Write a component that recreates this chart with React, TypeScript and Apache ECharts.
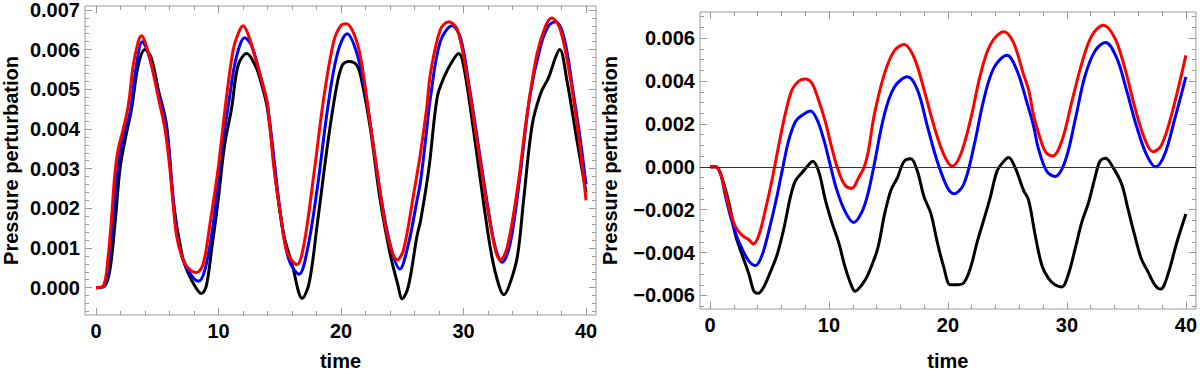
import React, { useEffect, useRef } from "react";
import * as echarts from "echarts";

type P = [number, number];

// ---- Left panel data (time, pressure perturbation) ----
const leftBlack: P[] = [
  [0, 0], [0.73, 0.00005], [1.14, 0.00045], [1.55, 0.0016], [1.96, 0.003], [2.36, 0.0037], [2.9, 0.0045],
  [3.45, 0.0056], [4.0, 0.006], [4.5, 0.0058], [5.08, 0.005], [5.76, 0.0041], [6.3, 0.0022], [7.0, 0.00086],
  [7.5, 0.00038], [8.07, 0.00004], [8.6, -0.00015], [9.0, 0.00004], [9.43, 0.00094], [9.97, 0.0022],
  [10.5, 0.0036], [11.06, 0.0045], [11.6, 0.0056], [12.3, 0.0059], [13.0, 0.0056], [13.45, 0.0052],
  [14.0, 0.0045], [14.8, 0.0024], [15.35, 0.0013], [16.0, 0.0006], [16.84, -0.00027], [17.4, 0.00012],
  [18.06, 0.0016], [18.9, 0.0036], [19.6, 0.005], [20.1, 0.0056], [20.65, 0.0057], [21.3, 0.0056],
  [21.7, 0.0052], [22.4, 0.004], [23.2, 0.0022], [24.0, 0.00086], [24.6, 0.00012], [25.0, -0.00028],
  [25.5, 0.00004], [26.2, 0.0013], [26.5, 0.0017], [27.17, 0.003], [27.85, 0.0048], [28.4, 0.0053],
  [29.07, 0.0057], [29.6, 0.0059], [30.0, 0.0056], [30.8, 0.004], [31.65, 0.0021], [32.3, 0.0008],
  [32.9, 0.00004], [33.3, -0.00018], [33.8, 0.00012], [34.4, 0.0008], [34.9, 0.0022], [35.6, 0.0041],
  [36.3, 0.0049], [36.95, 0.0053], [37.5, 0.0058], [37.85, 0.006], [38.45, 0.0052], [39.26, 0.0037],
  [40.0, 0.0024],
];
const leftBlue: P[] = [
  [0, 0], [0.6, 0.00002], [1.0, 0.0005], [1.41, 0.0018], [1.82, 0.0031], [2.23, 0.0038], [2.77, 0.0044],
  [3.3, 0.0056], [3.78, 0.0062], [4.27, 0.0059], [5.08, 0.0049], [5.76, 0.004], [6.2, 0.0026],
  [6.58, 0.0014], [7.1, 0.0007], [7.8, 0.0003], [8.35, 0.00016], [8.9, 0.00046], [9.57, 0.0016],
  [10.2, 0.0033], [10.9, 0.0048], [11.45, 0.0058], [12.15, 0.0063], [12.7, 0.0061], [13.45, 0.0053],
  [14.0, 0.0046], [15.08, 0.0018], [15.75, 0.0007], [16.57, 0.00034], [17.25, 0.00095], [18.06, 0.0025],
  [18.9, 0.0045], [19.7, 0.0059], [20.5, 0.0064], [21.3, 0.0059], [22.0, 0.0049], [22.4, 0.0041],
  [23.2, 0.0024], [24.0, 0.0011], [24.8, 0.00047], [25.5, 0.0011], [26.2, 0.0022], [26.5, 0.0027],
  [27.0, 0.004], [27.3, 0.0048], [28.1, 0.0062], [29.07, 0.0066], [29.75, 0.0063], [30.5, 0.005],
  [31.3, 0.0034], [32.0, 0.002], [32.6, 0.001], [33.15, 0.00064], [33.8, 0.0011], [34.6, 0.0028],
  [35.4, 0.0048], [36.3, 0.0061], [36.95, 0.0066], [37.5, 0.0067], [38.2, 0.0063], [38.96, 0.0049],
  [39.5, 0.0038], [40.0, 0.0026],
];
const leftRed: P[] = [
  [0, 0], [0.6, 0.00004], [1.0, 0.0008], [1.28, 0.0018], [1.55, 0.0029], [1.82, 0.0035], [2.23, 0.004],
  [2.64, 0.0046], [3.04, 0.0056], [3.45, 0.0062], [3.72, 0.00635], [4.0, 0.0062], [4.54, 0.0056],
  [5.08, 0.0048], [5.63, 0.004], [6.03, 0.003], [6.3, 0.0021], [6.58, 0.0013], [7.0, 0.0008], [7.5, 0.0005],
  [8.2, 0.00038], [8.75, 0.0006], [9.3, 0.0016], [9.97, 0.003], [10.65, 0.0048], [11.2, 0.006],
  [11.6, 0.0064], [12.0, 0.0066], [12.4, 0.0064], [13.0, 0.0058], [13.45, 0.0053], [14.0, 0.0046],
  [14.53, 0.003], [15.08, 0.0018], [15.6, 0.0009], [16.4, 0.00058], [16.98, 0.0011], [17.8, 0.0029],
  [18.6, 0.0048], [19.4, 0.0062], [19.97, 0.0066], [20.45, 0.00665], [21.05, 0.0064], [21.6, 0.0058],
  [22.4, 0.0041], [23.2, 0.0024], [23.8, 0.0013], [24.6, 0.0007], [25.1, 0.00095], [25.95, 0.0024],
  [26.49, 0.0034], [26.98, 0.0045], [27.3, 0.0054], [28.1, 0.0065], [28.8, 0.0067], [29.5, 0.0065],
  [30.3, 0.0053], [31.1, 0.0037], [31.9, 0.0021], [32.6, 0.00095], [33.0, 0.0007], [33.55, 0.001],
  [34.4, 0.0025], [35.2, 0.0044], [36.0, 0.0059], [36.7, 0.0066], [37.2, 0.0068], [37.9, 0.0065],
  [38.7, 0.0053], [39.4, 0.0038], [40.0, 0.0022],
];

// ---- Right panel data ----
const rightBlack: P[] = [
  [0, 0], [0.47, 0], [0.9, -0.00035], [1.6, -0.0017], [2.15, -0.0032], [2.7, -0.0041], [3.27, -0.005],
  [3.69, -0.0058], [4.05, -0.0059], [4.52, -0.0056], [5.08, -0.0049], [5.64, -0.0041], [6.2, -0.0029],
  [6.76, -0.0014], [7.18, -0.00065], [7.74, -0.00027], [8.3, 0.0001], [8.63, 0.00026], [9.13, -0.0002],
  [9.7, -0.00155], [10.25, -0.0026], [10.8, -0.0035], [11.37, -0.0047], [11.93, -0.0056], [12.2, -0.0058],
  [12.77, -0.0055], [13.3, -0.005], [14.1, -0.0038], [14.64, -0.0023], [15.2, -0.0011], [15.76, -0.0005],
  [16.32, 0.00026], [16.88, 0.00038], [17.43, -0.0002], [17.99, -0.0014], [18.55, -0.00215],
  [19.1, -0.0035], [19.66, -0.0047], [20.2, -0.0055], [20.78, -0.0055], [21.34, -0.0054], [21.9, -0.0047],
  [22.46, -0.0035], [23.0, -0.0025], [23.57, -0.0014], [24.13, -0.0002], [24.7, 0.00026], [25.1, 0.00044],
  [25.66, -0.00005], [26.36, -0.0011], [26.78, -0.00155], [27.34, -0.0032], [27.9, -0.0046],
  [28.45, -0.0052], [29.0, -0.0055], [29.57, -0.0056], [30.13, -0.005], [30.7, -0.0038], [31.24, -0.0026],
  [31.8, -0.0017], [32.36, -0.0005], [32.78, 0.00026], [33.25, 0.0004], [33.9, -0.00005], [34.6, -0.0008],
  [35.15, -0.002], [35.7, -0.0032], [36.26, -0.0043], [36.82, -0.0049], [37.38, -0.0055], [37.88, -0.0057],
  [38.5, -0.005], [39.2, -0.0036], [40.0, -0.0022],
];
const rightBlue: P[] = [
  [0, 0], [0.47, 0], [0.9, -0.00035], [1.31, -0.0014], [1.87, -0.0026], [2.43, -0.0035], [3.27, -0.0044],
  [3.83, -0.0046], [4.39, -0.0041], [4.94, -0.003], [5.5, -0.0017], [6.06, -0.0002], [6.6, 0.0012],
  [7.18, 0.0021], [7.74, 0.0024], [8.44, 0.0026], [9.0, 0.0022], [9.55, 0.0013], [10.1, 0.0001],
  [10.67, -0.0011], [11.37, -0.0021], [12.07, -0.0026], [12.77, -0.0021], [13.3, -0.0012], [13.8, 0.0001],
  [14.64, 0.0024], [15.48, 0.0037], [16.6, 0.0042], [17.43, 0.0036], [18.27, 0.0019], [19.1, 0.00026],
  [19.94, -0.00095], [20.5, -0.00125], [21.34, -0.0008], [22.2, 0.001], [23.0, 0.0031], [23.85, 0.0046],
  [24.96, 0.0052], [25.8, 0.0045], [26.64, 0.003], [27.2, 0.0019], [27.6, 0.00086], [28.3, -0.0002],
  [29.0, -0.00045], [29.85, 0.00026], [30.7, 0.0022], [31.5, 0.0042], [32.36, 0.0054], [33.25, 0.0058],
  [34.17, 0.0051], [35.0, 0.0036], [35.85, 0.0019], [36.7, 0.00056], [37.45, 0], [38.2, 0.00056],
  [39.05, 0.0022], [40.0, 0.0042],
];
const rightRed: P[] = [
  [0, 0], [0.47, 0], [0.9, -0.00035], [1.31, -0.00125], [1.73, -0.00215], [2.15, -0.0028], [2.7, -0.0032],
  [3.27, -0.0034], [3.63, -0.0036], [4.1, -0.0032], [4.66, -0.002], [5.2, -0.00065], [5.78, 0.001],
  [6.34, 0.0025], [6.9, 0.0036], [7.46, 0.004], [8.0, 0.0041], [8.57, 0.0039], [9.13, 0.0031],
  [9.7, 0.0021], [10.25, 0.00086], [10.8, -0.0002], [11.37, -0.00087], [11.93, -0.001], [12.5, -0.0005],
  [12.97, 0.0], [13.3, 0.0007], [13.8, 0.0024], [14.64, 0.0043], [15.48, 0.0054], [16.32, 0.0057],
  [17.15, 0.0051], [17.99, 0.0036], [18.83, 0.0019], [19.66, 0.00056], [20.36, 0.00003], [21.06, 0.00056],
  [21.9, 0.0022], [22.73, 0.0043], [23.57, 0.0057], [24.7, 0.0063], [25.5, 0.0058], [26.36, 0.0043],
  [26.78, 0.0036], [27.2, 0.0024], [27.6, 0.0016], [28.2, 0.0007], [28.8, 0.0005], [29.57, 0.0012],
  [30.4, 0.003], [31.24, 0.0048], [32.08, 0.0061], [33.06, 0.0066], [34.03, 0.006], [34.87, 0.0046],
  [35.7, 0.0028], [36.54, 0.0013], [37.24, 0.0007], [37.94, 0.001], [38.78, 0.0024], [40.0, 0.0052],
];

// ---- Ticks ----
const xMajorTicks = [0, 10, 20, 30, 40];
const xMinorTicks = [0, 2, 4, 6, 8, 10, 12, 14, 16, 18, 20, 22, 24, 26, 28, 30, 32, 34, 36, 38, 40];
const leftYMajorTicks = [0, 0.001, 0.002, 0.003, 0.004, 0.005, 0.006, 0.007];
const leftYMinorTicks: number[] = [];
for (let i = -3; i <= 35; i++) leftYMinorTicks.push(Math.round(i * 2) / 10000);
const rightYMajorTicks = [-0.006, -0.004, -0.002, 0, 0.002, 0.004, 0.006];
const rightYMinorTicks: number[] = [];
for (let i = -13; i <= 14; i++) rightYMinorTicks.push(Math.round(i * 5) / 10000);

const xLabel = "time";
const yLabel = "Pressure perturbation";

const FONT = "'Liberation Sans', Arial, sans-serif";
const FRAME = "#999999";

const fmtY = (v: number) => {
  const a = Math.abs(v).toFixed(3);
  return v < -1e-9 ? "\u2212" + a : a;
};

const noLine = { show: false, onZero: false };

function makeXAxes(gridIndex: number, min: number, max: number, nameGap: number) {
  const base = { type: "value" as const, gridIndex, min, max, splitLine: { show: false }, axisLine: noLine };
  return [
    {
      ...base,
      position: "bottom",
      name: xLabel,
      nameLocation: "middle",
      nameGap,
      nameTextStyle: { fontSize: 20, fontWeight: "bold", color: "#000", fontFamily: FONT },
      axisTick: { show: true, inside: true, length: 7, customValues: xMajorTicks, lineStyle: { color: FRAME } },
      axisLabel: {
        show: true, customValues: xMajorTicks, margin: 6, fontSize: 20, fontWeight: "bold", color: "#000",
        fontFamily: FONT, formatter: (v: number) => String(Math.round(v)),
      },
    },
    {
      ...base, position: "bottom",
      axisTick: { show: true, inside: true, length: 4, customValues: xMinorTicks, lineStyle: { color: FRAME } },
      axisLabel: { show: false },
    },
    {
      ...base, position: "top",
      axisTick: { show: true, inside: true, length: 7, customValues: xMajorTicks, lineStyle: { color: FRAME } },
      axisLabel: { show: false },
    },
    {
      ...base, position: "top",
      axisTick: { show: true, inside: true, length: 4, customValues: xMinorTicks, lineStyle: { color: FRAME } },
      axisLabel: { show: false },
    },
  ];
}

function makeYAxes(gridIndex: number, min: number, max: number, majors: number[], minors: number[], nameGap: number) {
  const base = { type: "value" as const, gridIndex, min, max, splitLine: { show: false }, axisLine: noLine };
  return [
    {
      ...base,
      position: "left",
      name: yLabel,
      nameLocation: "middle",
      nameGap,
      nameRotate: 90,
      nameTextStyle: { fontSize: 20, fontWeight: "bold", color: "#000", fontFamily: FONT },
      axisTick: { show: true, inside: true, length: 7, customValues: majors, lineStyle: { color: FRAME } },
      axisLabel: {
        show: true, customValues: majors, margin: 5, fontSize: 20, fontWeight: "bold", color: "#000",
        fontFamily: FONT, formatter: fmtY,
      },
    },
    {
      ...base, position: "left",
      axisTick: { show: true, inside: true, length: 4, customValues: minors, lineStyle: { color: FRAME } },
      axisLabel: { show: false },
    },
    {
      ...base, position: "right",
      axisTick: { show: true, inside: true, length: 7, customValues: majors, lineStyle: { color: FRAME } },
      axisLabel: { show: false },
    },
    {
      ...base, position: "right",
      axisTick: { show: true, inside: true, length: 4, customValues: minors, lineStyle: { color: FRAME } },
      axisLabel: { show: false },
    },
  ];
}

function line(name: string, data: P[], color: string, axisIndex: number, extra: any = {}) {
  return {
    name,
    type: "line",
    xAxisIndex: axisIndex,
    yAxisIndex: axisIndex,
    data,
    showSymbol: false,
    symbol: "none",
    smooth: 0.35,
    lineStyle: { color, width: 3 },
    itemStyle: { color },
    clip: true,
    ...extra,
  };
}

export default function App() {
  const ref = useRef<HTMLDivElement>(null);
  useEffect(() => {
    if (!ref.current) return;
    const chart = echarts.init(ref.current, undefined, { renderer: "svg" });
    chart.setOption({
      animation: false,
      backgroundColor: "#fff",
      textStyle: { fontFamily: FONT },
      grid: [
        { left: 84, top: 4, width: 512, height: 315, show: true, borderColor: FRAME, borderWidth: 1, backgroundColor: "transparent", containLabel: false },
        { left: 700, top: 12, width: 498, height: 307, show: true, borderColor: FRAME, borderWidth: 1, backgroundColor: "transparent", containLabel: false },
      ],
      xAxis: [...makeXAxes(0, -0.896, 40.81, 36), ...makeXAxes(1, -0.84, 40.84, 42)],
      yAxis: [
        ...makeYAxes(0, -0.00069, 0.0071, leftYMajorTicks, leftYMinorTicks, 64),
        ...makeYAxes(1, -0.00663, 0.00722, rightYMajorTicks, rightYMinorTicks, 80),
      ],
      series: [
        line("black L", leftBlack, "#000000", 0),
        line("blue L", leftBlue, "#0000ff", 0),
        line("red L", leftRed, "#ff0000", 0),
        line("black R", rightBlack, "#000000", 4, {
          markLine: {
            silent: true,
            symbol: "none",
            label: { show: false },
            lineStyle: { color: "#333", width: 1, type: "solid" },
            data: [{ yAxis: 0 }],
          },
        }),
        line("blue R", rightBlue, "#0000ff", 4),
        line("red R", rightRed, "#ff0000", 4),
      ],
    });
    return () => chart.dispose();
  }, []);
  return <div ref={ref} style={{ position: "absolute", left: 0, top: 0, width: 1200, height: 376 }} />;
}
